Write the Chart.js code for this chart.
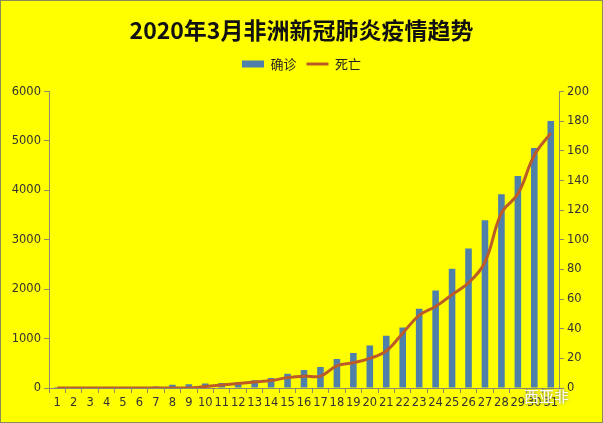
<!DOCTYPE html>
<html>
<head>
<meta charset="utf-8">
<script src="https://cdn.jsdelivr.net/npm/chart.js@4"></script>
<style>
  body { margin: 0; background: #fff; }
  #box { position: relative; width: 601px; height: 421px; border: 1px solid #8c8c5a; background: #ffff00; }
  #mark { position: absolute; left: 523px; top: 384px; font: 15px "Noto Sans CJK SC"; color: #fff; text-shadow: 0 0 3px #777; }
</style>
</head>
<body>
<div id="box">
  <canvas id="grafico" width="601" height="421"></canvas>
  <div id="mark">西亚非</div>
</div>
<script>
// 3月每天
const dias = ["1","2","3","4","5","6","7","8","9","10","11","12","13","14","15","16",
  "17","18","19","20","21","22","23","24","25","26","27","28","29","30","31"];
// 确诊 (左轴)
const confirmados = [2, 3, 4, 5, 6, 8, 30, 65, 78, 90, 100, 120, 155, 200, 290, 366,
  427, 589, 711, 860, 1057, 1226, 1606, 1972, 2412, 2825, 3394, 3923, 4289, 4858, 5407];
// 死亡 (右轴)
const muertes = [0, 0, 0, 0, 0, 0, 0, 0, 0, 1, 2, 3, 4, 5, 7, 8,
  8, 15, 17, 20, 25, 37, 49, 55, 63, 71, 85, 118, 131, 157, 172];

const FONT = "'Noto Sans CJK SC', 'Noto Sans', sans-serif";
const TICK_FONT = { family: "'DejaVu Sans', sans-serif", size: 11.5 };

// deja más espacio debajo de la leyenda
const espacioLeyenda = {
  id: "espacioLeyenda",
  afterInit(chart) {
    const fitOrig = chart.legend.fit;
    chart.legend.fit = function () {
      fitOrig.call(this);
      this.height += 11;
    };
  }
};

new Chart(document.getElementById("grafico"), {
  data: {
    labels: dias,
    datasets: [
      {
        type: "line",
        label: "死亡",
        data: muertes,
        yAxisID: "y2",
        borderColor: "#bd5b26",
        backgroundColor: "#bd5b26",
        borderWidth: 3,
        pointRadius: 0,
        tension: 0.4,
        pointStyle: "line",
        order: 0
      },
      {
        type: "bar",
        label: "确诊",
        data: confirmados,
        yAxisID: "y",
        backgroundColor: "#4f80aa",
        categoryPercentage: 1,
        barPercentage: 0.4,
        pointStyle: "rect",
        order: 1
      }
    ]
  },
  plugins: [espacioLeyenda],
  options: {
    responsive: false,
    animation: false,
    plugins: {
      title: {
        display: true,
        text: "2020年3月非洲新冠肺炎疫情趋势",
        color: "#111",
        font: { family: FONT, size: 23, weight: "bold" },
        padding: { top: 15, bottom: 4 }
      },
      legend: {
        reverse: true,
        labels: {
          usePointStyle: true,
          pointStyleWidth: 22,
          boxHeight: 7,
          color: "#222",
          font: { family: FONT, size: 13 },
          padding: 10
        }
      },
      tooltip: { enabled: false }
    },
    scales: {
      x: {
        offset: true,
        grid: { display: true, drawOnChartArea: false, offset: true, tickLength: 5, color: "#8c8c6a" },
        border: { color: "#8c8c6a" },
        ticks: { color: "#333", font: TICK_FONT, maxRotation: 0, autoSkip: false, padding: 3 },
        afterFit: s => { s.height = 34; }
      },
      y: {
        position: "left",
        min: 0,
        max: 6000,
        grid: { display: true, drawOnChartArea: false, tickLength: 5, color: "#8c8c6a" },
        border: { color: "#8c8c6a" },
        ticks: { stepSize: 1000, color: "#333", font: TICK_FONT, padding: 3, callback: v => String(v) },
        afterFit: s => { s.width = 48; }
      },
      y2: {
        position: "right",
        min: 0,
        max: 200,
        grid: { display: true, drawOnChartArea: false, tickLength: 5, color: "#8c8c6a" },
        border: { color: "#8c8c6a" },
        ticks: { stepSize: 20, color: "#333", font: TICK_FONT, padding: 3, callback: v => String(v) },
        afterFit: s => { s.width = 43; }
      }
    }
  }
});
</script>
</body>
</html>
